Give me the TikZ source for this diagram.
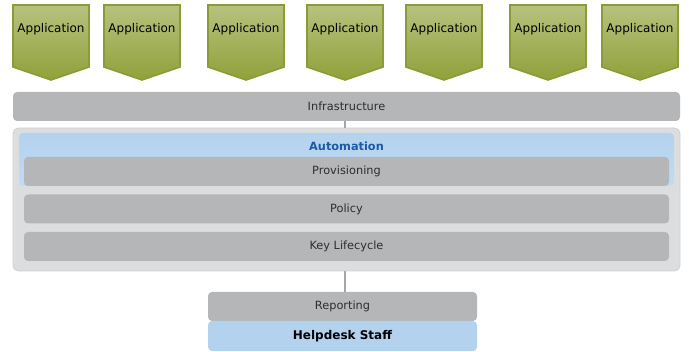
\documentclass[tikz,border=0pt]{standalone}
\usepackage{fontspec}
\setmainfont{DejaVu Sans}
\usetikzlibrary{positioning}

\definecolor{applight}{HTML}{B7C27E}
\definecolor{appmid}{HTML}{9DAD4C}
\definecolor{appgreen}{HTML}{90A13A}
\definecolor{appedge}{HTML}{8B9B38}
\definecolor{bargray}{HTML}{B5B6B8}
\definecolor{panelgray}{HTML}{DCDDDF}
\definecolor{paneledge}{HTML}{D0D1D3}
\definecolor{headblue}{HTML}{B3D2EE}
\definecolor{autoblue}{HTML}{1B5AA4}
\definecolor{linkgray}{HTML}{A6A6A6}
\definecolor{bartext}{HTML}{2E2E2E}

\tikzset{
  apptext/.style={font=\fontsize{9}{11}\selectfont, text=black, inner sep=0pt},
  bar/.style={fill=bargray, rounded corners=3pt, minimum height=21.75pt,
    inner sep=0pt, text=bartext, font=\fontsize{8.5}{10}\selectfont},
  link/.style={draw=linkgray, line width=1.1pt}
}

\begin{document}
\begin{tikzpicture}[x=0.75pt,y=-0.75pt]
  \useasboundingbox (0,0) rectangle (689,352);

  % applications
  \foreach \x [count=\i] in {13,104,208,307,406,510,602} {
    \shade[top color=applight, middle color=appmid, bottom color=appgreen, draw=appedge, line width=1.2pt]
      (\x,5) -- ++(76,0) -- ++(0,62) -- ++(-38,13) -- ++(-38,-13) -- cycle;
    \node[apptext] (app\i) at (\x+38,29) {Application};
  }

  \node[bar, minimum width=500.25pt] (infra) at (346.5,106.5) {Infrastructure};

  % automation panel
  \node[fill=panelgray, draw=paneledge, line width=0.6pt, rounded corners=4pt,
    minimum width=500.25pt, minimum height=107.25pt, inner sep=0pt] (panel) at (346.5,199.5) {};
  \node[top color=headblue, bottom color=headblue!80!white, rounded corners=3pt,
    minimum width=491.25pt, minimum height=39.75pt, inner sep=0pt] (auto) at (346.5,159.5) {};
  \node[text=autoblue, font=\fontsize{8.5}{10}\selectfont\bfseries] (autotitle) at (346.5,146) {Automation};
  \node[bar, minimum width=483.75pt] (prov) at (346.5,171.5) {Provisioning};
  \node[bar, minimum width=483.75pt] (policy) at (346.5,209) {Policy};
  \node[bar, minimum width=483.75pt] (keylife) at (346.5,246.5) {Key Lifecycle};

  \node[bar, minimum width=201.75pt] (report) at (342.5,306.5) {Reporting};
  \node[fill=headblue, rounded corners=3pt, minimum width=201.75pt, minimum height=22.5pt,
    inner sep=0pt, font=\fontsize{9}{11}\selectfont\bfseries] (helpdesk) at (342.5,336) {Helpdesk Staff};

  \coordinate (linkx) at (345,0);
  \draw[link] (infra.south -| linkx) -- (panel.north -| linkx);
  \draw[link] (panel.south -| linkx) -- (report.north -| linkx);
\end{tikzpicture}
\end{document}
